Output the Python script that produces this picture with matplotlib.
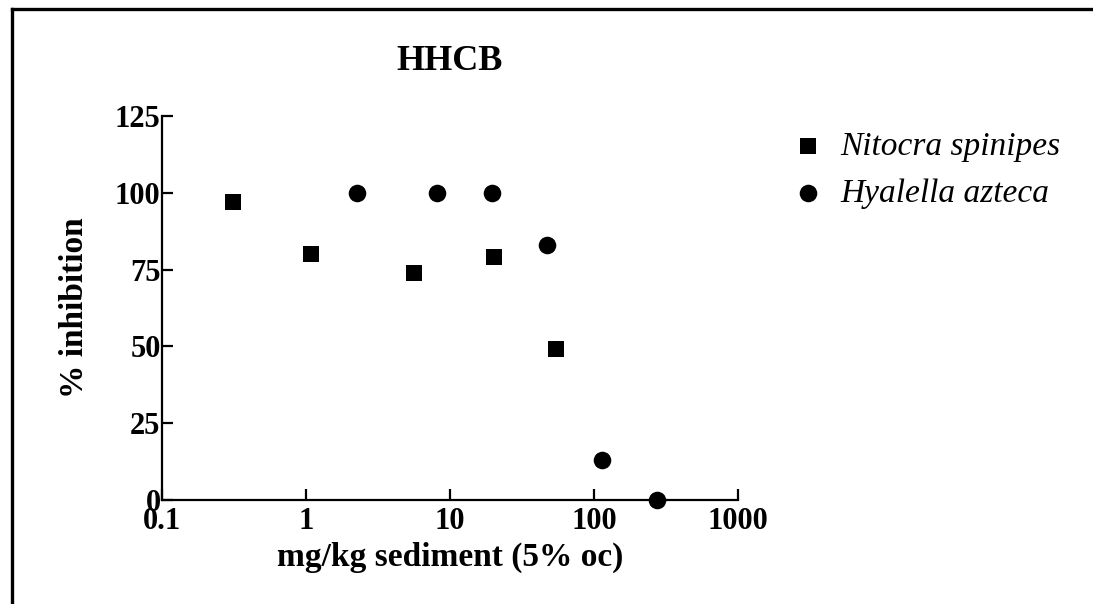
import numpy as np
import matplotlib.pyplot as plt
from matplotlib.lines import Line2D

# data
nitocra_x = [0.31, 1.08, 5.6, 20.2, 54.5]
nitocra_y = [97, 80, 74, 79, 49]
hyalella_x = [2.27, 8.1, 19.5, 47, 113, 272]
hyalella_y = [100, 100, 100, 83, 13, 0]
xticks = [0.1, 1, 10, 100, 1000]
xticklabels = ["0.1", "1", "10", "100", "1000"]
yticks = [0, 25, 50, 75, 100, 125]

W, H = 1093, 604
plt.rcParams['font.family'] = ['Liberation Serif', 'DejaVu Serif']
plt.rcParams['font.weight'] = 'bold'

fig = plt.figure(figsize=(W / 100, H / 100), dpi=100)
ax = fig.add_axes([162 / W, (H - 500) / H, (738 - 162) / W, (500 - 116) / H])

ax.scatter(nitocra_x, nitocra_y, marker='s', s=135, color='black', lw=0,
           label='Nitocra spinipes', clip_on=False, zorder=3)
ax.scatter(hyalella_x, hyalella_y, marker='o', s=160, color='black', lw=0,
           label='Hyalella azteca', clip_on=False, zorder=3)

ax.set_xscale('log')
ax.set_xlim(0.1, 1000)
ax.set_ylim(0, 125)
ax.set_xticks(xticks)
ax.set_xticklabels(xticklabels)
ax.xaxis.set_minor_locator(plt.NullLocator())
ax.set_yticks(yticks)

for s in ['top', 'right']:
    ax.spines[s].set_visible(False)
for s in ['left', 'bottom']:
    ax.spines[s].set_linewidth(1.6)
ax.tick_params(direction='in', length=8, width=1.6, labelsize=22)
ax.tick_params(axis='x', pad=5)
ax.tick_params(axis='y', pad=1)
for lab in ax.get_xticklabels() + ax.get_yticklabels():
    lab.set_fontweight('bold')

ax.set_xlabel('mg/kg sediment (5% oc)', fontsize=24, fontweight='bold', labelpad=4)
ax.set_ylabel('% inhibition', fontsize=24, fontweight='bold', labelpad=18)
fig.text(450 / W, 1 - 61 / H, 'HHCB', fontsize=26, fontweight='bold',
         ha='center', va='center')

ax.legend(loc='upper left', bbox_to_anchor=(795 / W, 1 - 131 / H),
          bbox_transform=fig.transFigure, frameon=False,
          prop={'family': 'Liberation Serif', 'style': 'italic',
                'weight': 'normal', 'size': 24},
          handletextpad=0.55, labelspacing=0.5, handlelength=0.8,
          borderpad=0, borderaxespad=0)

# frame around the figure (left and top edges visible)
fig.add_artist(Line2D([11.5 / W, 11.5 / W], [0, 1 - 9 / H], color='black',
                      lw=2.4, transform=fig.transFigure))
fig.add_artist(Line2D([11.5 / W, 1], [1 - 9 / H, 1 - 9 / H], color='black',
                      lw=2.4, transform=fig.transFigure))

fig.savefig('out.png', dpi=100)
